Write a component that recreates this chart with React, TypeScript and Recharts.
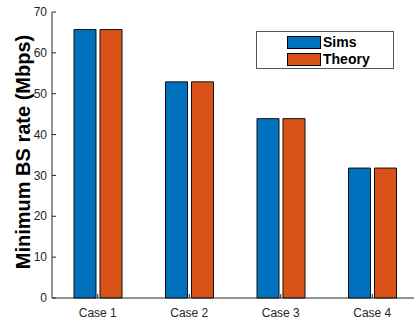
import React from 'react';
import { BarChart, Bar, XAxis, YAxis } from 'recharts';

const categories = ['Case 1', 'Case 2', 'Case 3', 'Case 4'];
const simsValues = [65.7, 52.9, 43.9, 31.8];
const theoryValues = [65.7, 52.9, 43.9, 31.8];
const yTicks = [0, 10, 20, 30, 40, 50, 60, 70];
const seriesNames = ['Sims', 'Theory'];

const data = categories.map((c, i) => ({ name: c, Sims: simsValues[i], Theory: theoryValues[i] }));

const FONT = '"Liberation Sans", Arial, Helvetica, sans-serif';
const AXIS = '#262626';
const BLUE = '#0072BD';
const ORANGE = '#D95319';
const COLORS = [BLUE, ORANGE];

const LeftTick = (props: any) => {
  const { x, y, payload } = props;
  return (
    <g>
      <line x1={x} y1={y} x2={x + 4} y2={y} stroke={AXIS} strokeWidth={1} />
      <text x={x - 5} y={y} dy="0.35em" textAnchor="end" fontSize={12} fill={AXIS} fontFamily={FONT}>
        {payload.value}
      </text>
    </g>
  );
};

const RightTick = (props: any) => {
  const { x, y } = props;
  return <line x1={x} y1={y} x2={x - 4} y2={y} stroke={AXIS} strokeWidth={1} />;
};

const BottomTick = (props: any) => {
  const { x, y, payload } = props;
  return (
    <g>
      <line x1={x} y1={y} x2={x} y2={y - 4} stroke={AXIS} strokeWidth={1} />
      <text x={x} y={y + 19} textAnchor="middle" fontSize={12} fill={AXIS} fontFamily={FONT}>
        {payload.value}
      </text>
    </g>
  );
};

const TopTick = (props: any) => {
  const { x, y } = props;
  return <line x1={x} y1={y} x2={x} y2={y + 4} stroke={AXIS} strokeWidth={1} />;
};

const LegendBox = () => (
  <div
    style={{
      position: 'absolute',
      left: 256,
      top: 31,
      width: 136,
      height: 36,
      border: '1px solid #555',
      background: '#fff',
      fontFamily: FONT,
      fontWeight: 'bold',
      fontSize: 14,
      color: '#000',
    }}
  >
    {seriesNames.map((label, i) => (
      <div key={label} style={{ position: 'absolute', left: 30, top: 4 + i * 17, height: 13, display: 'flex', alignItems: 'center' }}>
        <div style={{ width: 32, height: 11, background: COLORS[i], border: '1px solid #000' }} />
        <span style={{ marginLeft: 2, lineHeight: '13px' }}>{label}</span>
      </div>
    ))}
  </div>
);

export default function App() {
  return (
    <div style={{ position: 'absolute', left: 0, top: 0, width: 414, height: 322, overflow: 'hidden', background: '#fff' }}>
      <BarChart
        width={440}
        height={322}
        data={data}
        margin={{ top: 12, right: 22, bottom: 4, left: 12 }}
        barCategoryGap={22}
        barGap={4}
      >
        <XAxis
          dataKey="name"
          xAxisId="bottom"
          height={20}
          tickSize={0}
          tickMargin={0}
          tickLine={false}
          axisLine={{ stroke: AXIS }}
          tick={<BottomTick />}
          interval={0}
        />
        <XAxis
          dataKey="name"
          xAxisId="top"
          orientation="top"
          height={0}
          tickSize={0}
          tickMargin={0}
          tickLine={false}
          axisLine={{ stroke: AXIS }}
          tick={<TopTick />}
          interval={0}
        />
        <YAxis
          yAxisId="left"
          width={40}
          domain={[0, 70]}
          ticks={yTicks}
          tickSize={0}
          tickMargin={0}
          tickLine={false}
          axisLine={{ stroke: AXIS }}
          tick={<LeftTick />}
          interval={0}
          label={{
            content: () => (
              <text
                x={30}
                y={152}
                transform="rotate(-90 30 152)"
                textAnchor="middle"
                fontSize={20}
                fontWeight="bold"
                fill="#000"
                fontFamily={FONT}
              >
                Minimum BS rate (Mbps)
              </text>
            ),
          }}
        />
        <YAxis
          yAxisId="right"
          orientation="right"
          width={0}
          domain={[0, 70]}
          ticks={yTicks}
          tickSize={0}
          tickMargin={0}
          tickLine={false}
          axisLine={{ stroke: AXIS }}
          tick={<RightTick />}
          interval={0}
        />
        <Bar dataKey="Sims" xAxisId="bottom" yAxisId="left" fill={BLUE} stroke="#111" strokeWidth={1} isAnimationActive={false} />
        <Bar dataKey="Theory" xAxisId="bottom" yAxisId="left" fill={ORANGE} stroke="#111" strokeWidth={1} isAnimationActive={false} />
      </BarChart>
      <LegendBox />
    </div>
  );
}
